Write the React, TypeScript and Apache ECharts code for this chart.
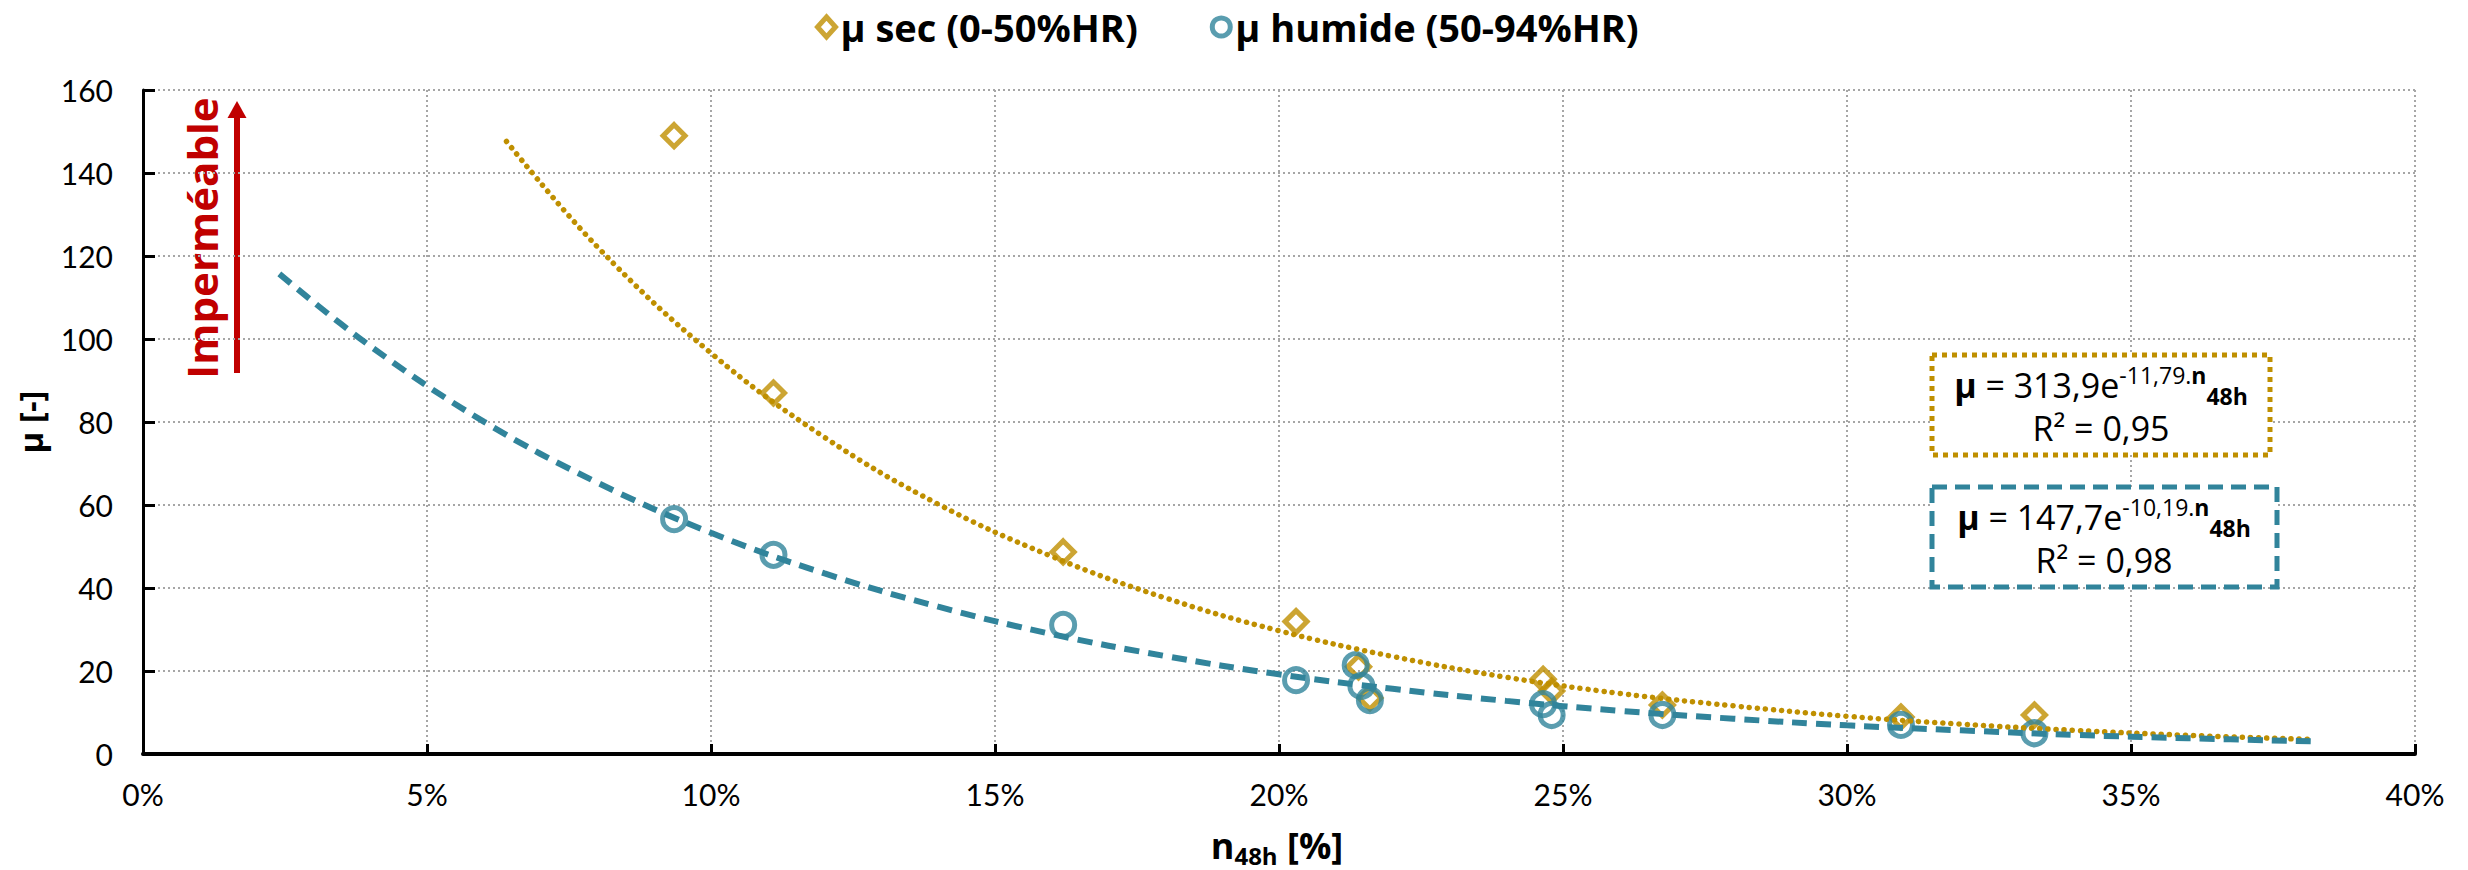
import React, { useEffect, useRef } from "react";
import * as echarts from "echarts";

// ---- data ----
const SERIES_DRY = "μ sec (0-50%HR)";
const SERIES_WET = "μ humide (50-94%HR)";

const DRY_X = [9.35, 11.1, 16.2, 20.3, 21.4, 21.6, 24.65, 24.8, 26.75, 30.95, 33.3];
const DRY_MU = [149, 87, 48.7, 31.9, 21.0, 13.5, 18.0, 15.2, 11.8, 8.9, 9.4];

const WET_X = [9.35, 11.1, 16.2, 20.3, 21.35, 21.45, 21.6, 24.65, 24.8, 26.75, 30.95, 33.3];
const WET_MU = [56.6, 48.0, 31.1, 17.8, 21.4, 16.4, 13.0, 12.0, 9.4, 9.4, 7.0, 5.0];

// trend curves, points
const DRY_TREND_X = [6.4, 8, 10, 12, 14, 16, 18, 20, 22, 24, 26, 28, 30, 32, 34, 36, 38.2];
const DRY_TREND_MU = [147.6, 122.2, 96.6, 76.3, 60.2, 47.6, 37.6, 29.7, 23.5, 18.5, 14.6, 11.6, 9.1, 7.2, 5.7, 4.5, 3.5];
const WET_TREND_X = [2.4, 4, 6, 8, 10, 12, 14, 16, 18, 20, 22, 24, 26, 28, 30, 32, 34, 36, 38.3];
const WET_TREND_MU = [115.7, 98.3, 80.1, 65.4, 53.3, 43.5, 35.5, 28.9, 23.6, 19.2, 15.7, 12.8, 10.4, 8.5, 6.9, 5.7, 4.6, 3.8, 3.0];

const X_MIN = 0, X_MAX = 40, X_STEP = 5;
const Y_MIN = 0, Y_MAX = 160, Y_STEP = 20;

const DRY_EQ = { coef: "313,9", exp: "-11,79.", r2: "R² = 0,95" };
const WET_EQ = { coef: "147,7", exp: "-10,19.", r2: "R² = 0,98" };

const GOLD = "#BF8F00";
const BLUE = "#31849B";
const RED = "#C00000";
const FONT = "Lato, 'Open Sans', sans-serif";
const WFONT = "'Open Sans', Lato, sans-serif";

const zip = (a: number[], b: number[]) => a.map((v, i) => [v, b[i]]);

function eqRich() {
  return {
    b: { fontFamily: WFONT, fontWeight: "bold", fontSize: 34, lineHeight: 44, fill: "#000" },
    m: { fontFamily: WFONT, fontWeight: "normal", fontSize: 34, lineHeight: 44, fill: "#000" },
    sup: { fontFamily: WFONT, fontWeight: "normal", fontSize: 23, lineHeight: 30, verticalAlign: "top", fill: "#000" },
    supb: { fontFamily: WFONT, fontWeight: "bold", fontSize: 23, lineHeight: 30, verticalAlign: "top", fill: "#000" },
    sub: { fontFamily: WFONT, fontWeight: "bold", fontSize: 23, lineHeight: 22, verticalAlign: "bottom", fill: "#000" },
  };
}

export default function App() {
  const ref = useRef<HTMLDivElement>(null);
  useEffect(() => {
    document.body.style.margin = "0";
    const chart = echarts.init(ref.current!, null, { renderer: "svg" });
    const option: any = {
      animation: false,
      backgroundColor: "#fff",
      textStyle: { fontFamily: FONT },
      grid: { left: 143, right: 53, top: 90, bottom: 116, containLabel: false },
      legend: {
        left: 810,
        top: 3,
        itemWidth: 18,
        itemHeight: 20,
        itemGap: 72,
        textStyle: { fontFamily: WFONT, fontWeight: "bold", fontSize: 38, color: "#000" },
        data: [
          { name: SERIES_DRY, icon: "diamond", itemStyle: { color: "rgba(255,255,255,0)", borderColor: GOLD, borderWidth: 5 } },
          { name: SERIES_WET, icon: "circle", itemStyle: { color: "rgba(255,255,255,0)", borderColor: BLUE, borderWidth: 5 } },
        ],
      },
      xAxis: {
        type: "value",
        min: X_MIN,
        max: X_MAX,
        interval: X_STEP,
        axisLine: { lineStyle: { color: "#000", width: 4 } },
        axisTick: { inside: true, length: 10, lineStyle: { color: "#000", width: 3 } },
        axisLabel: { formatter: "{value}%", fontFamily: FONT, fontSize: 30, color: "#000", margin: 25 },
        splitLine: { show: true, lineStyle: { color: "#A6A6A6", width: 2, type: [2, 3] } },
      },
      yAxis: {
        type: "value",
        min: Y_MIN,
        max: Y_MAX,
        interval: Y_STEP,
        axisLine: { show: true, lineStyle: { color: "#000", width: 3 } },
        axisTick: { show: true, inside: true, length: 12, lineStyle: { color: "#000", width: 3 } },
        axisLabel: { fontFamily: FONT, fontSize: 30, color: "#000", margin: 30 },
        splitLine: { show: true, lineStyle: { color: "#A6A6A6", width: 2, type: [2, 3] } },
      },
      series: [
        {
          name: SERIES_DRY,
          type: "scatter",
          symbol: "diamond",
          symbolSize: 22,
          itemStyle: { color: "rgba(255,255,255,0)", borderColor: GOLD, borderWidth: 5 },
          data: zip(DRY_X, DRY_MU),
          z: 2,
        },
        {
          name: SERIES_WET,
          type: "scatter",
          symbol: "circle",
          symbolSize: 23,
          itemStyle: { color: "rgba(255,255,255,0)", borderColor: BLUE, borderWidth: 5 },
          data: zip(WET_X, WET_MU),
          z: 3,
        },
        {
          name: "trend sec",
          type: "line",
          smooth: 0.4,
          showSymbol: false,
          lineStyle: { color: GOLD, width: 5.5, type: [0.1, 8], cap: "round" },
          data: zip(DRY_TREND_X, DRY_TREND_MU),
          z: 4,
        },
        {
          name: "trend humide",
          type: "line",
          smooth: 0.4,
          showSymbol: false,
          lineStyle: { color: BLUE, width: 6, type: [15, 9], cap: "butt" },
          data: zip(WET_TREND_X, WET_TREND_MU),
          z: 5,
        },
      ],
      graphic: [
        // y axis title
        {
          type: "text",
          x: 30,
          y: 422,
          rotation: Math.PI / 2,
          style: { text: "μ [-]", fontFamily: WFONT, fontWeight: "bold", fontSize: 33, fill: "#000", textAlign: "center", textVerticalAlign: "middle" },
        },
        // x axis title
        {
          type: "text",
          x: 1277,
          y: 845,
          style: {
            text: "{b|n}{sub|48h}{b| [%]}",
            textAlign: "center",
            textVerticalAlign: "middle",
            rich: {
              b: { fontFamily: WFONT, fontWeight: "bold", fontSize: 36, lineHeight: 44, fill: "#000" },
              sub: { fontFamily: WFONT, fontWeight: "bold", fontSize: 24, lineHeight: 24, verticalAlign: "bottom", fill: "#000" },
            },
          },
        },
        // Imperméable annotation
        {
          type: "text",
          x: 201,
          y: 238,
          rotation: Math.PI / 2,
          style: { text: "Imperméable", fontFamily: WFONT, fontWeight: "bold", fontSize: 42, fill: RED, textAlign: "center", textVerticalAlign: "middle" },
        },
        {
          type: "line",
          shape: { x1: 237, y1: 373, x2: 237, y2: 116 },
          style: { stroke: RED, lineWidth: 6 },
        },
        {
          type: "polygon",
          shape: { points: [[227.5, 118], [246.5, 118], [237, 101]] },
          style: { fill: RED },
        },
        // dry equation box
        {
          type: "rect",
          shape: { x: 1932, y: 355, width: 338, height: 100 },
          style: { fill: "#fff", stroke: GOLD, lineWidth: 5, lineDash: [5, 5] },
          z: 10,
        },
        {
          type: "text",
          x: 2101,
          y: 385,
          z: 11,
          style: {
            text: `{b|μ}{m| = ${DRY_EQ.coef}e}{sup|${DRY_EQ.exp}}{supb|n}{sub|48h}`,
            textAlign: "center",
            textVerticalAlign: "middle",
            rich: eqRich(),
          },
        },
        {
          type: "text",
          x: 2101,
          y: 428,
          z: 11,
          style: { text: DRY_EQ.r2, fontFamily: WFONT, fontSize: 34, fill: "#000", textAlign: "center", textVerticalAlign: "middle" },
        },
        // wet equation box
        {
          type: "rect",
          shape: { x: 1932, y: 487, width: 345, height: 100 },
          style: { fill: "#fff", stroke: BLUE, lineWidth: 5, lineDash: [15, 8] },
          z: 10,
        },
        {
          type: "text",
          x: 2104,
          y: 517,
          z: 11,
          style: {
            text: `{b|μ}{m| = ${WET_EQ.coef}e}{sup|${WET_EQ.exp}}{supb|n}{sub|48h}`,
            textAlign: "center",
            textVerticalAlign: "middle",
            rich: eqRich(),
          },
        },
        {
          type: "text",
          x: 2104,
          y: 560,
          z: 11,
          style: { text: WET_EQ.r2, fontFamily: WFONT, fontSize: 34, fill: "#000", textAlign: "center", textVerticalAlign: "middle" },
        },
      ],
    };
    chart.setOption(option);
    return () => chart.dispose();
  }, []);
  return <div ref={ref} style={{ width: 2468, height: 870 }} />;
}
